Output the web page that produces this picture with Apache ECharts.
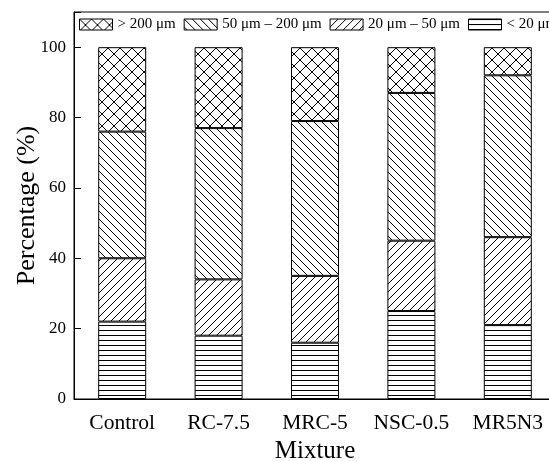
<!DOCTYPE html>
<html>
<head>
<meta charset="utf-8">
<script src="https://cdn.jsdelivr.net/npm/echarts@6/dist/echarts.min.js"></script>
<style>
  html, body { margin: 0; padding: 0; background: #fff; overflow: hidden; }
  #chart { width: 556px; height: 461px; }
</style>
</head>
<body>
<div id="chart"></div>
<script>
// Particle-size fractions (%) for each mixture
const categories = ['Control', 'RC-7.5', 'MRC-5', 'NSC-0.5', 'MR5N3'];
const below20 = [22, 18, 16, 25, 21];
const from20to50 = [18, 16, 19, 20, 25];
const from50to200 = [36, 43, 44, 42, 46];
const above200 = [24, 23, 21, 13, 8];
const seriesNames = ['< 20 μm', '20 μm – 50 μm', '50 μm – 200 μm', '> 200 μm'];
const legendOrder = ['> 200 μm', '50 μm – 200 μm', '20 μm – 50 μm', '< 20 μm'];
const yTicks = [0, 20, 40, 60, 80, 100];

const FONT = "'Liberation Serif', 'Times New Roman', serif";

// Build a repeating black-on-white hatch tile
function hatch(kind, size) {
  const c = document.createElement('canvas');
  c.width = size; c.height = size;
  const g = c.getContext('2d');
  g.fillStyle = '#fff';
  g.fillRect(0, 0, size, size);
  g.strokeStyle = '#000';
  g.lineWidth = 1;
  g.beginPath();
  if (kind === 'back' || kind === 'cross') {
    for (let k = -1; k <= 1; k++) { g.moveTo(k * size, 0); g.lineTo(k * size + size, size); }
  }
  if (kind === 'fwd' || kind === 'cross') {
    for (let k = -1; k <= 1; k++) { g.moveTo(k * size, size); g.lineTo(k * size + size, 0); }
  }
  if (kind === 'horiz') {
    g.moveTo(0, 0.5); g.lineTo(size, 0.5);
  }
  g.stroke();
  return { image: c, repeat: 'repeat' };
}

const fills = [hatch('horiz', 5), hatch('fwd', 8), hatch('back', 8), hatch('cross', 12)];
const values = [below20, from20to50, from50to200, above200];

const chart = echarts.init(document.getElementById('chart'), null, { renderer: 'canvas' });

chart.setOption({
  animation: false,
  backgroundColor: '#fff',
  textStyle: { fontFamily: FONT, color: '#000' },
  grid: {
    left: 74, right: 0, top: 12, bottom: 62,
    containLabel: false,
    outerBoundsMode: 'none',
    show: true, borderColor: '#000', borderWidth: 1, backgroundColor: 'transparent'
  },
  legend: {
    data: legendOrder,
    left: 79, top: 17, width: 800,
    padding: 0,
    icon: 'rect',
    itemWidth: 33, itemHeight: 11, itemGap: 8,
    textStyle: { fontFamily: FONT, fontSize: 15, color: '#000' },
    itemStyle: { borderColor: '#000', borderWidth: 1 }
  },
  xAxis: {
    type: 'category',
    data: categories,
    name: 'Mixture',
    nameLocation: 'middle',
    nameGap: 39,
    nameTextStyle: { fontFamily: FONT, fontSize: 25, color: '#000' },
    axisLine: { lineStyle: { color: '#000', width: 1 } },
    axisTick: { alignWithLabel: true, length: 7, lineStyle: { color: '#000' } },
    axisLabel: { interval: 0, fontFamily: FONT, fontSize: 21.5, color: '#000', margin: 13 },
    splitLine: { show: false }
  },
  yAxis: {
    type: 'value',
    min: 0, max: 110, interval: 20,
    name: 'Percentage (%)',
    nameLocation: 'middle',
    nameGap: 34,
    nameMoveOverlap: false,
    nameTextStyle: { fontFamily: FONT, fontSize: 26, color: '#000' },
    axisLine: { show: true, lineStyle: { color: '#000', width: 1 } },
    axisTick: { show: true, inside: true, length: 7, lineStyle: { color: '#000' } },
    axisLabel: {
      fontFamily: FONT, fontSize: 17, color: '#000', margin: 8,
      formatter: v => (yTicks.indexOf(v) >= 0 ? String(v) : '')
    },
    splitLine: { show: false }
  },
  series: seriesNames.map((name, i) => ({
    name: name,
    type: 'bar',
    stack: 'total',
    barWidth: 48,
    data: values[i],
    itemStyle: { color: fills[i], borderColor: '#000', borderWidth: 1 },
    emphasis: { disabled: true }
  }))
});
</script>
</body>
</html>
